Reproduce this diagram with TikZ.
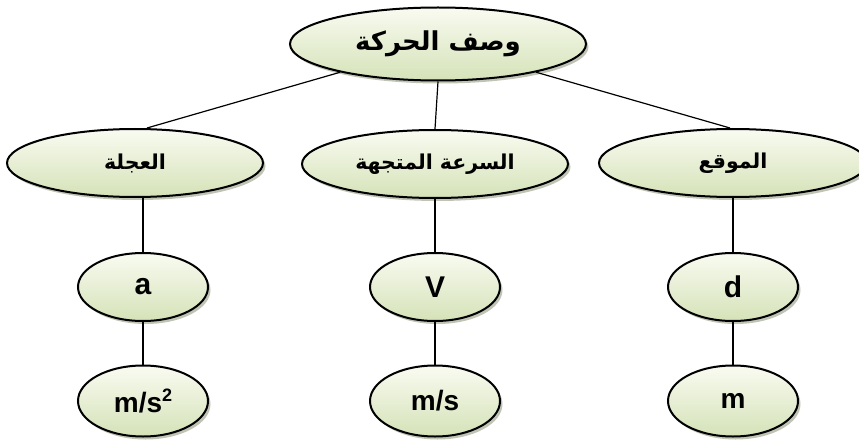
\documentclass[tikz,border=0pt]{standalone}
\usepackage{fontspec}
\setmainfont{Liberation Sans}
\newfontfamily\arabicbold[Script=Arabic]{DejaVu Sans Bold}
\TeXXeTstate=1
\usetikzlibrary{shapes.geometric,shadows}

\definecolor{bubbletop}{HTML}{F9FBF1}
\definecolor{bubblebottom}{HTML}{D5E2B8}
\definecolor{bubbleshade}{HTML}{8A9478}

\newcommand{\sqr}{\raisebox{0.42em}{\fontsize{18}{18}\selectfont 2}}

\tikzset{
  bubble/.style={
    ellipse, draw=black, line width=2pt, inner sep=0pt,
    top color=bubbletop, bottom color=bubblebottom,
    drop shadow={shadow xshift=2.5pt, shadow yshift=-3pt,
                 fill=bubbleshade, opacity=0.55},
    font=\bfseries
  },
  topbubble/.style={bubble, minimum width=296pt, minimum height=73pt,
    font=\arabicbold\fontsize{26}{29}\selectfont},
  midbubble/.style={bubble, minimum height=68pt,
    font=\arabicbold\fontsize{20.5}{23}\selectfont},
  smallbubble/.style={bubble, minimum width=130pt, minimum height=68pt,
    font=\bfseries\fontsize{30}{32}\selectfont},
  unitbubble/.style={bubble, minimum width=130pt, minimum height=71pt,
    font=\bfseries\fontsize{28}{30}\selectfont},
  link/.style={draw=black, line width=1.2pt}
}

\begin{document}
\begin{tikzpicture}[x=1pt, y=-1pt]
  \useasboundingbox (0,0) rectangle (859,441);

  % root
  \node[topbubble] (motion) at (438,44) {\beginR وصف الحركة\endR};

  % quantities
  \node[midbubble, minimum width=256pt] (accel) at (135,163) {\beginR العجلة\endR};
  \node[midbubble, minimum width=266pt] (veloc) at (435,164) {\beginR السرعة المتجهة\endR};
  \node[midbubble, minimum width=268pt] (posit) at (733,163) {\beginR الموقع\endR};

  % symbols
  \node[smallbubble] (asym) at (143,287) {a};
  \node[smallbubble] (vsym) at (435,287) {V};
  \node[smallbubble] (dsym) at (733,287) {d};

  % units
  \node[unitbubble] (aunit) at (143,401) {m/s\sqr};
  \node[unitbubble] (vunit) at (435,401) {m/s};
  \node[unitbubble] (dunit) at (733,401) {m};

  % connectors
  \draw[link] (motion) -- ([xshift=12pt]accel.north);
  \draw[link] (motion.south) -- (veloc.north);
  \draw[link] (motion) -- ([xshift=-3pt]posit.north);

  \draw[link] (accel.south -| asym) -- (asym.north);
  \draw[link] (veloc.south -| vsym) -- (vsym.north);
  \draw[link] (posit.south -| dsym) -- (dsym.north);

  \draw[link] (asym) -- (aunit);
  \draw[link] (vsym) -- (vunit);
  \draw[link] (dsym) -- (dunit);
\end{tikzpicture}
\end{document}
